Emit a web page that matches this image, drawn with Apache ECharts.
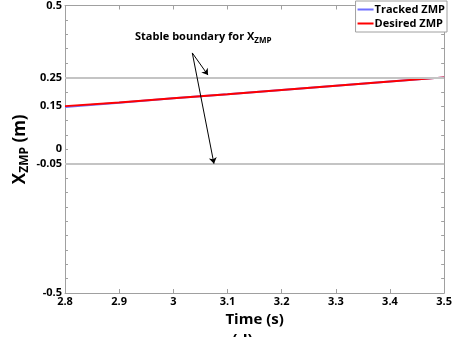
<!DOCTYPE html>
<html>
<head>
<meta charset="utf-8">
<script src="https://cdn.jsdelivr.net/npm/echarts@6/dist/echarts.min.js"></script>
<style>
  html, body { margin: 0; padding: 0; background: #fff; }
  #chart-root { width: 455px; height: 337px; }
</style>
</head>
<body>
<div id="chart-root"></div>
<script>
// time samples (s)
const timeValues = [2.8, 2.9, 3.0, 3.1, 3.2, 3.3, 3.4, 3.5];
// ZMP x position (m)
const desiredZmp = [0.150, 0.163, 0.177, 0.191, 0.206, 0.221, 0.236, 0.250];
const trackedZmp = [0.147, 0.162, 0.177, 0.191, 0.206, 0.221, 0.236, 0.250];
// stable boundary lines
const boundaryValues = [0.25, -0.05];
const yTickLabels = [-0.5, -0.05, 0, 0.15, 0.25, 0.5];

const root = document.getElementById('chart-root');
const chart = echarts.init(root);

const font = '"Open Sans", "DejaVu Sans", sans-serif';
const axisGrey = '#a0a0a0';

function pairs(ys) {
  return timeValues.map(function (t, i) { return [t, ys[i]]; });
}

const boxAxis = {
  onZero: false,
  lineStyle: { color: axisGrey, width: 1 }
};

chart.setOption({
  animation: false,
  grid: { left: 65, right: 8, top: 1, bottom: 44 },
  xAxis: [{
    type: 'value', min: 2.8, max: 3.5, interval: 0.1,
    name: 'Time (s)', nameLocation: 'middle', nameGap: 19,
    nameTextStyle: { fontFamily: font, fontWeight: 'bold', fontSize: 15, color: '#000' },
    axisLine: boxAxis,
    axisTick: { inside: true, length: 4, lineStyle: { color: axisGrey } },
    axisLabel: { fontFamily: font, fontWeight: 'bold', fontSize: 11, color: '#000', margin: 3,
      formatter: function (v) { return String(+v.toFixed(1)); } },
    splitLine: { show: false }
  }, {
    type: 'value', position: 'top', min: 2.8, max: 3.5, interval: 0.1,
    axisLine: boxAxis,
    axisTick: { inside: true, length: 4, lineStyle: { color: axisGrey } },
    axisLabel: { show: false }, splitLine: { show: false }
  }],
  yAxis: [{
    type: 'value', min: -0.5, max: 0.5, interval: 0.05,
    name: 'X{sub|ZMP} (m)', nameLocation: 'middle', nameGap: 34, nameMoveOverlap: false,
    nameTextStyle: { fontFamily: font, fontWeight: 'bold', fontSize: 17, color: '#000',
      rich: { sub: { fontFamily: font, fontWeight: 'bold', fontSize: 12, color: '#000', verticalAlign: 'bottom', padding: [10, 0, 0, 0] } } },
    axisLine: boxAxis,
    axisTick: { inside: true, length: 3, lineStyle: { color: axisGrey } },
    axisLabel: { customValues: yTickLabels, fontFamily: font, fontWeight: 'bold', fontSize: 11, color: '#000', margin: 3,
      formatter: function (v) { return String(+v.toFixed(2)); } },
    splitLine: { show: false }
  }, {
    type: 'value', position: 'right', min: -0.5, max: 0.5, interval: 0.05,
    axisLine: boxAxis,
    axisTick: { inside: true, length: 3, lineStyle: { color: axisGrey } },
    axisLabel: { show: false }, splitLine: { show: false }
  }],
  legend: {
    right: 8, top: 1, orient: 'vertical', itemGap: 3,
    padding: [3, 2, 3, 2],
    backgroundColor: '#fff', borderColor: axisGrey, borderWidth: 1,
    itemWidth: 16, itemHeight: 2,
    icon: 'rect',
    textStyle: { fontFamily: font, fontWeight: 'bold', fontSize: 11, color: '#000', padding: [0, 0, 0, -4] },
    data: ['Tracked ZMP', 'Desired ZMP']
  },
  graphic: [{
    type: 'text', left: 135, top: 31,
    style: {
      text: 'Stable boundary for X{sub|ZMP}',
      font: 'bold 11px ' + font, fill: '#000',
      rich: { sub: { font: 'bold 8px ' + font, fill: '#000', verticalAlign: 'bottom', padding: [8, 0, 0, 0] } }
    }
  }, {
    type: 'text', left: 232, top: 333,
    style: { text: '(d)', font: 'bold 16px ' + font, fill: '#000' }
  }],
  series: [{
    name: 'boundary', type: 'line', data: [], silent: true,
    markLine: {
      silent: true, symbol: 'none', label: { show: false },
      lineStyle: { color: '#c4c4c4', width: 2, type: 'solid' },
      data: boundaryValues.map(function (v) { return { yAxis: v }; })
    }
  }, {
    name: 'arrows', type: 'line', data: [], silent: true,
    markLine: {
      silent: true, symbol: ['none', 'arrow'], symbolSize: 6, label: { show: false },
      lineStyle: { color: '#000', width: 1, type: 'solid' },
      data: [
        [{ coord: [3.035, 0.335] }, { coord: [3.064, 0.258] }],
        [{ coord: [3.035, 0.335] }, { coord: [3.075, -0.05] }]
      ]
    }
  }, {
    name: 'Tracked ZMP', type: 'line', data: pairs(trackedZmp),
    showSymbol: false, smooth: false,
    itemStyle: { color: '#6f6fff' },
    lineStyle: { color: '#6f6fff', width: 2 }
  }, {
    name: 'Desired ZMP', type: 'line', data: pairs(desiredZmp),
    showSymbol: false, smooth: false,
    itemStyle: { color: '#ff0000' },
    lineStyle: { color: '#ff0000', width: 2 }
  }]
});
</script>
</body>
</html>
